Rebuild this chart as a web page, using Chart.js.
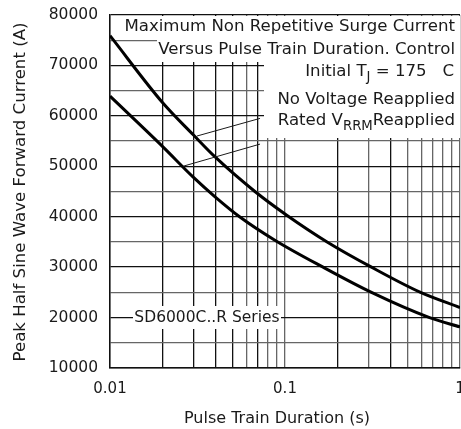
<!DOCTYPE html>
<html>
<head>
<meta charset="utf-8">
<script src="https://cdn.jsdelivr.net/npm/chart.js@4"></script>
<style>
  html, body { margin: 0; padding: 0; background: #fff; }
  #wrap { width: 461px; height: 429px; }
</style>
</head>
<body>
<div id="wrap"><canvas id="chart" width="461" height="429"></canvas></div>
<script>
// curve: no voltage reapplied (upper)
const upperX = [0.01, 0.02, 0.03, 0.04, 0.0673, 0.1023, 0.174, 0.312, 0.595, 1];
const upperY = [75900, 62600, 56200, 51800, 45000, 40300, 35000, 30000, 25000, 22000];

// rated VRRM reapplied (lower)
const lowerX = [0.01, 0.02, 0.03, 0.04, 0.055, 0.088, 0.165, 0.312, 0.67, 1];
const lowerY = [63900, 53900, 47800, 43900, 40000, 35300, 30000, 25000, 20000, 18150];

// axis ticks
const xDecades = [0.01, 0.1];
const xLabels = [0.01, 0.1, 1];
const yMin = 10000, yMax = 80000, yStep = 5000;

// leader lines from the notes to the curves (x, y in data units)
const leaderUpper = [[0.0314, 56000], [0.072, 59500]];
const leaderLower = [[0.0261, 50000], [0.072, 54400]];

const FONT = '"DejaVu Sans", sans-serif';
const INK = '#1a1a1a';

function pts(xs, ys) {
  return xs.map((x, i) => ({ x: x, y: ys[i] }));
}

let xTicks = [];
xDecades.forEach(d => {
  for (let m = 1; m <= 9; m++) xTicks.push(+(d * m).toPrecision(3));
});
xTicks.push(1);

// draw text pieces, some as subscripts, ending at rightX
function richText(ctx, parts, rightX, y, size) {
  let w = 0;
  parts.forEach(p => {
    ctx.font = (p.sub ? size * 0.8 : size) + 'px ' + FONT;
    w += ctx.measureText(p.t).width;
  });
  let x = rightX - w;
  ctx.textAlign = 'left';
  ctx.textBaseline = 'middle';
  parts.forEach(p => {
    ctx.font = (p.sub ? size * 0.8 : size) + 'px ' + FONT;
    ctx.fillText(p.t, x, p.sub ? y + 6 : y);
    x += ctx.measureText(p.t).width;
  });
}

const notes = {
  id: 'notes',
  beforeDatasetsDraw(chart) {
    let ctx = chart.ctx;
    ctx.save();
    ctx.fillStyle = '#fff';
    // white boxes behind the notes
    ctx.fillRect(113, 16, 347, 23);
    ctx.fillRect(157, 39, 303, 23);
    ctx.fillRect(264, 62, 196, 76);
    ctx.fillRect(133, 306, 148, 23);
    ctx.restore();
  },
  afterDatasetsDraw(chart) {
    let ctx = chart.ctx;
    let xs = chart.scales.x, ys = chart.scales.y;
    ctx.save();
    ctx.fillStyle = INK;
    ctx.strokeStyle = INK;

    ctx.lineWidth = 1;
    [leaderUpper, leaderLower].forEach(l => {
      ctx.beginPath();
      ctx.moveTo(xs.getPixelForValue(l[0][0]), ys.getPixelForValue(l[0][1]));
      ctx.lineTo(xs.getPixelForValue(l[1][0]), ys.getPixelForValue(l[1][1]));
      ctx.stroke();
    });

    let s = 16.6;
    richText(ctx, [{ t: 'Maximum Non Repetitive Surge Current' }], 455, 27, s);
    richText(ctx, [{ t: 'Versus Pulse Train Duration. Control' }], 455, 50, s);
    richText(ctx, [{ t: 'Initial T' }, { t: 'J', sub: true }, { t: ' = 175   C' }], 454, 72, s);
    richText(ctx, [{ t: 'No Voltage Reapplied' }], 455, 100, s);
    richText(ctx, [{ t: 'Rated V' }, { t: 'RRM', sub: true }, { t: 'Reapplied' }], 455, 121, s);

    ctx.font = '15.5px ' + FONT;
    ctx.textAlign = 'center';
    ctx.textBaseline = 'middle';
    ctx.fillText('SD6000C..R Series', 207, ys.getPixelForValue(20000));

    // axis titles
    ctx.font = '16px ' + FONT;
    ctx.fillText('Pulse Train Duration (s)', 277, 419);
    ctx.font = '16.6px ' + FONT;
    ctx.translate(21, 192);
    ctx.rotate(-Math.PI / 2);
    ctx.fillText('Peak Half Sine Wave Forward Current (A)', 0, 0);
    ctx.restore();
  }
};

const chart = new Chart(document.getElementById('chart'), {
  type: 'line',
  data: {
    datasets: [
      {
        label: 'No Voltage Reapplied',
        data: pts(upperX, upperY),
        borderColor: '#000',
        borderWidth: 3,
        pointRadius: 0,
        cubicInterpolationMode: 'monotone'
      },
      {
        label: 'Rated VRRM Reapplied',
        data: pts(lowerX, lowerY),
        borderColor: '#000',
        borderWidth: 3,
        pointRadius: 0,
        cubicInterpolationMode: 'monotone'
      }
    ]
  },
  options: {
    responsive: false,
    animation: false,
    layout: { padding: { top: 15, right: 1, left: 0, bottom: 0 } },
    plugins: {
      legend: { display: false },
      tooltip: { enabled: false }
    },
    scales: {
      x: {
        type: 'logarithmic',
        min: 0.01,
        max: 1,
        afterBuildTicks: s => { s.ticks = xTicks.map(v => ({ value: v })); },
        afterFit: s => { s.height = 61; s.paddingLeft = 0; s.paddingRight = 0; },
        grid: {
          drawTicks: false,
          color: c => [0.02, 0.03, 0.04, 0.05, 0.07, 0.2, 0.4].includes(c.tick.value) ? '#111' : '#666',
          lineWidth: 1.3
        },
        border: { color: '#111', width: 1.5 },
        ticks: {
          autoSkip: false,
          maxRotation: 0,
          padding: 12,
          color: INK,
          font: { family: FONT, size: 15 },
          callback: v => xLabels.includes(v) ? String(v) : ''
        }
      },
      y: {
        min: yMin,
        max: yMax,
        afterFit: s => { s.width = 110; s.paddingTop = 0; s.paddingBottom = 0; },
        grid: {
          drawTicks: false,
          color: c => c.tick.value % 10000 === 0 ? '#111' : '#666',
          lineWidth: 1.3
        },
        border: { color: '#111', width: 1.5 },
        ticks: {
          stepSize: yStep,
          padding: 12,
          color: INK,
          font: { family: FONT, size: 15.5 },
          callback: v => v % 10000 === 0 ? String(v) : ''
        }
      }
    }
  },
  plugins: [notes]
});
</script>
</body>
</html>
